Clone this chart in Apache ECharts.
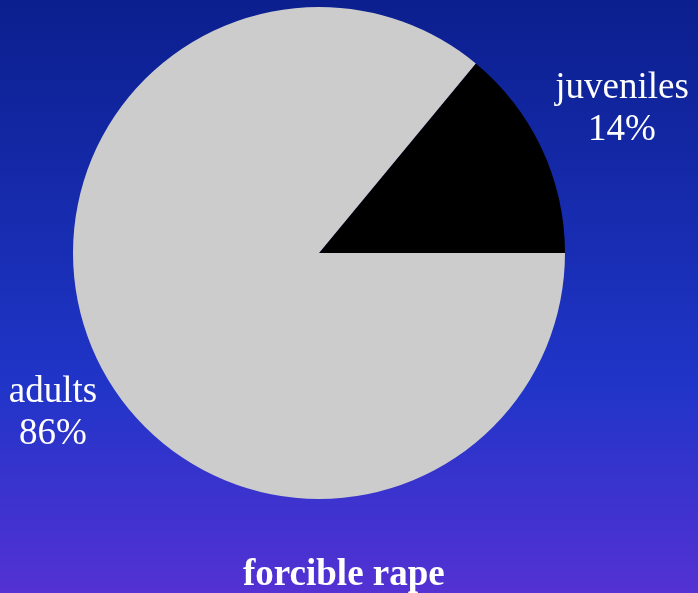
<!DOCTYPE html>
<html>
<head>
<meta charset="utf-8">
<script src="https://cdn.jsdelivr.net/npm/echarts@6/dist/echarts.min.js"></script>
<style>
    html, body { margin: 0; padding: 0; }
    #pieBox { width: 698px; height: 593px; }
</style>
</head>
<body>
<div id="pieBox"></div>
<script>
// forcible rape - share by age group
var categories = ['juveniles', 'adults'];
var shares = [14, 86];
var sliceColors = ['#000000', '#cccccc'];

// where each label block sits (centre x, centre y)
var labelSpots = [[622, 109], [53, 413]];

function initPie() {
    var myChart_pie = echarts.init(document.getElementById('pieBox'));

    var pieData = [];
    for (var i = 0; i < categories.length; i++) {
        pieData.push({
            name: categories[i],
            value: shares[i],
            itemStyle: { color: sliceColors[i] }
        });
    }

    var option_pie = {
        backgroundColor: new echarts.graphic.LinearGradient(0, 0, 0, 1, [
            { offset: 0, color: '#0b1f8e' },
            { offset: 0.65, color: '#2035c8' },
            { offset: 1, color: '#5431d3' }
        ]),
        title: {
            text: 'forcible rape',
            left: 238,
            top: 552,
            textStyle: {
                fontFamily: 'Liberation Serif',
                fontSize: 37,
                fontWeight: 'bold',
                color: '#ffffff'
            }
        },
        series: [
            {
                type: 'pie',
                center: [319, 253],
                radius: 246,
                startAngle: 50.4,
                clockwise: true,
                animation: false,
                silent: true,
                data: pieData,
                label: {
                    show: true,
                    position: 'outside',
                    alignTo: 'none',
                    overflow: 'none',
                    formatter: '{b}\n{d}%',
                    fontFamily: 'Liberation Serif',
                    fontSize: 37,
                    lineHeight: 42,
                    color: '#ffffff',
                    align: 'center'
                },
                labelLine: { show: false },
                labelLayout: function (params) {
                    var spot = labelSpots[params.dataIndex];
                    return {
                        x: spot[0],
                        y: spot[1],
                        align: 'center',
                        verticalAlign: 'middle'
                    };
                }
            }
        ]
    };

    myChart_pie.setOption(option_pie);
}

initPie();
</script>
</body>
</html>
